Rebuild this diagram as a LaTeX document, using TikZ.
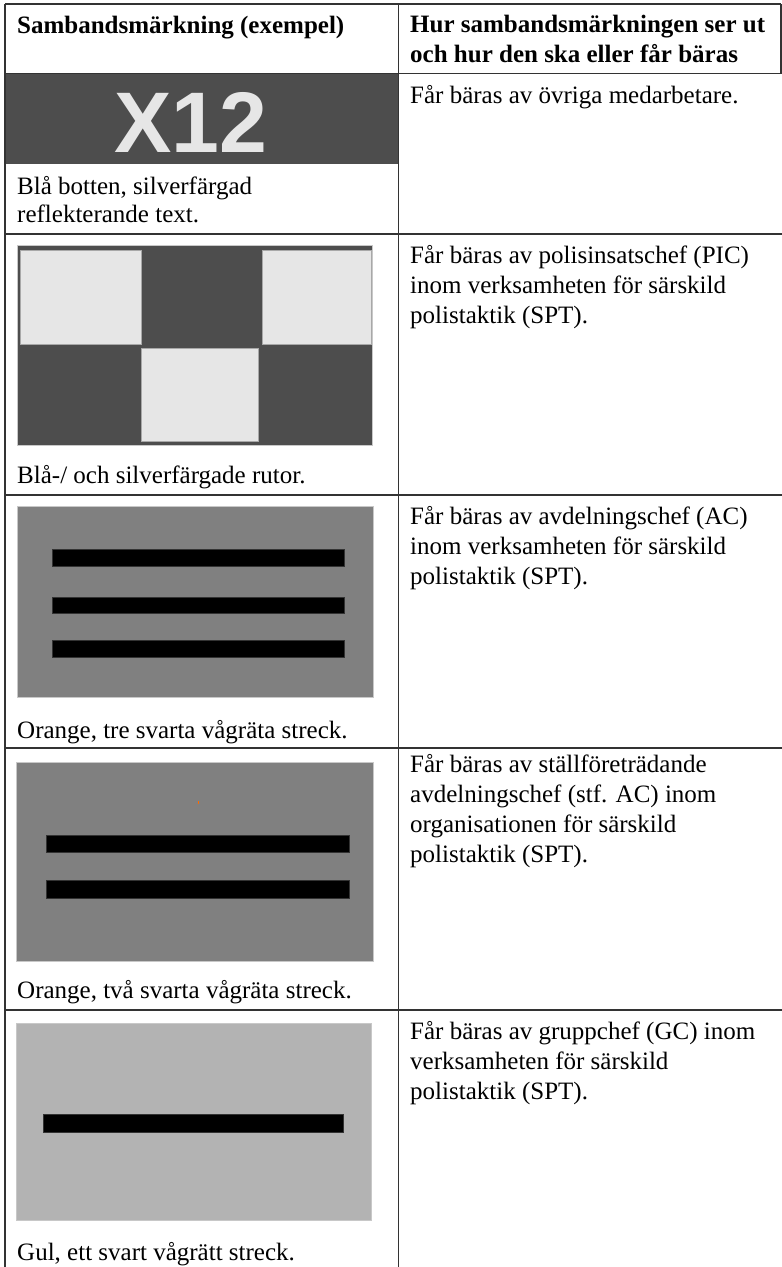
\documentclass[tikz,border=0pt]{standalone}
\usepackage{fontspec}
\setmainfont{Liberation Serif}
\newfontfamily\xsans{Liberation Sans}
\definecolor{rulec}{HTML}{333333}
\definecolor{darkblue}{HTML}{4D4D4D}
\definecolor{silver}{HTML}{E6E6E6}
\definecolor{orangeg}{HTML}{808080}
\definecolor{yellowg}{HTML}{B3B3B3}
\definecolor{edgeg}{HTML}{C8C8C8}
\definecolor{sqedge}{HTML}{A8A8A8}
\definecolor{dotor}{HTML}{FF6A00}
\begin{document}
\begin{tikzpicture}[x=1pt,y=-1pt,
  txt/.style={anchor=base west, inner sep=0pt, font=\fontsize{25}{30}\selectfont},
  head/.style={anchor=base west, inner sep=0pt, font=\fontsize{25}{30}\selectfont\bfseries},
  gridline/.style={draw=rulec, line width=1.4pt},
  panel/.style={draw=edgeg, line width=0.8pt},
  square/.style={fill=silver, draw=sqedge, line width=0.8pt},
  bar/.style={fill=black, draw=rulec, line width=0.5pt}]
\useasboundingbox (0,0) rectangle (782,1267);
\fill[white] (0,0) rectangle (782,1267);

% row 1 band
\fill[darkblue] (5,74) rectangle (398,164);
\node[anchor=base, inner sep=0pt, text=silver, font=\xsans\bfseries\fontsize{86}{86}\selectfont] (x12) at (191,152) {X12};

% row 2 checkerboard
\fill[darkblue, panel] (17.3,245) rectangle (372.7,445);
\path[square] (20,250) rectangle (141,344);
\path[square] (262,250) rectangle (371,344);
\path[square] (141,348) rectangle (258,441);

% row 3
\fill[orangeg, panel] (17,506) rectangle (373,697);
\path[bar] (52,549) rectangle (344,566);
\path[bar] (52,597) rectangle (344,613);
\path[bar] (52,640) rectangle (344,657);

% row 4
\fill[orangeg, panel] (16,762) rectangle (373,961);
\fill[dotor] (197.8,800.5) rectangle (199.2,804);
\path[bar] (46,835) rectangle (349,852);
\path[bar] (46,880) rectangle (349,898);

% row 5
\fill[yellowg, panel] (16,1023) rectangle (371,1220);
\path[bar] (43,1114) rectangle (343,1132);

% grid
\draw[gridline] (5,4) -- (781,4);
\draw[gridline] (5,4) -- (5,1267);
\draw[gridline] (398.5,4) -- (398.5,1267);
\draw[gridline] (781,4) -- (781,74);
\draw[gridline] (5,73.5) -- (782,73.5);
\draw[gridline] (5,234) -- (782,234);
\draw[gridline] (5,495) -- (782,495);
\draw[gridline] (5,748) -- (782,748);
\draw[gridline] (5,1010) -- (782,1010);

% header
\node[head] (h1) at (17,33) {Sambandsmärkning (exempel)};
\node[head] (h2a) at (410,32) {Hur sambandsmärkningen ser ut};
\node[head] (h2b) at (410,62) {och hur den ska eller får bäras};

% row 1 text
\node[txt] (c1a) at (17,194) {Blå botten, silverfärgad};
\node[txt] (c1b) at (17,222) {reflekterande text.};
\node[txt] (r1a) at (410,103) {Får bäras av övriga medarbetare.};

% row 2 text
\node[txt] (c2) at (17,483) {Blå-/ och silverfärgade rutor.};
\node[txt] (r2a) at (410,263) {Får bäras av polisinsatschef (PIC)};
\node[txt] (r2b) at (410,293) {inom verksamheten för särskild};
\node[txt] (r2c) at (410,323) {polistaktik (SPT).};

% row 3 text
\node[txt] (c3) at (17,738) {Orange, tre svarta vågräta streck.};
\node[txt] (r3a) at (410,524) {Får bäras av avdelningschef (AC)};
\node[txt] (r3b) at (410,554) {inom verksamheten för särskild};
\node[txt] (r3c) at (410,584) {polistaktik (SPT).};

% row 4 text
\node[txt] (c4) at (17,998) {Orange, två svarta vågräta streck.};
\node[txt] (r4a) at (410,772) {Får bäras av ställföreträdande};
\node[txt] (r4b) at (410,802) {avdelningschef (stf. AC) inom};
\node[txt] (r4c) at (410,832) {organisationen för särskild};
\node[txt] (r4d) at (410,862) {polistaktik (SPT).};

% row 5 text
\node[txt] (c5) at (17,1260) {Gul, ett svart vågrätt streck.};
\node[txt] (r5a) at (410,1039) {Får bäras av gruppchef (GC) inom};
\node[txt] (r5b) at (410,1069) {verksamheten för särskild};
\node[txt] (r5c) at (410,1099) {polistaktik (SPT).};
\end{tikzpicture}
\end{document}
